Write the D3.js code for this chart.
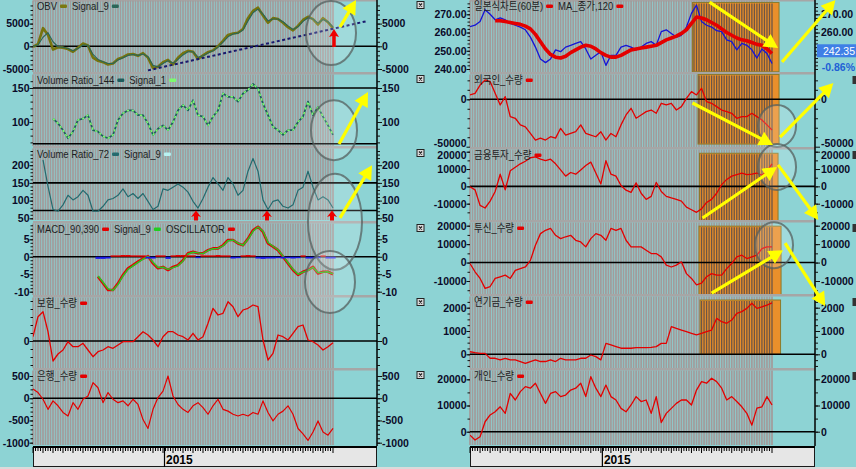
<!DOCTYPE html>
<html><head><meta charset="utf-8">
<script src="https://cdn.jsdelivr.net/npm/d3@7/dist/d3.min.js"></script>
<style>
html,body{margin:0;padding:0;background:#8dd3d4;overflow:hidden;}
svg{display:block;}
</style></head><body>
<svg id="c" width="856" height="469"></svg>
<script>
// ================= DATA =================
const idx = d3.range(61);            // bar index (time)
const yearLabel = "2015";
const yearIdx = 26.3;

// ---- left chart ----
const obv = [-100,500,4000,2500,-700,-200,-300,-600,-1200,-300,600,
 200,-2500,-3200,-3500,-4000,-3800,-2800,-2400,-1800,-1700,
 -2100,-1500,-2500,-4800,-4500,-3500,-3000,-4000,-2500,-1500,
 -1000,-1200,-2800,-2000,-1300,-900,0,1200,2500,2800,
 3000,3800,6200,7800,8500,6800,5200,6200,6000,5200,
 4200,3500,4500,5800,6500,6000,4800,6200,5300,4000];
const obvSignal = [0,300,2000,3000,1000,-100,-200,-500,-1000,-500,300,
 200,-1800,-2900,-3400,-3800,-3800,-3000,-2500,-2000,-1800,
 -2000,-1700,-2300,-4200,-4500,-3800,-3200,-3700,-2900,-1900,
 -1200,-1200,-2400,-2100,-1500,-1000,-200,900,2100,2700,
 2900,3600,5600,7400,8200,7100,5600,6000,6000,5400,
 4500,3700,4300,5500,6300,6000,5100,5900,5400,4300];
const vr144 = [null,null,null,null,105,98,88,76,86,103,105,
 110,88,86,79,76,81,103,113,117,117,
 110,110,98,81,90,95,88,100,117,125,
 117,132,110,108,95,108,117,142,137,137,
 130,142,147,156,149,127,110,93,88,81,
 88,88,100,108,130,110,122,108,95,81];
const vr144Signal = vr144.slice();   // Signal_1 = same as ratio
const vr72 = [null,null,215,140,75,70,88,115,102,111,129,
 115,70,70,84,102,106,115,133,111,120,
 106,120,98,75,84,133,129,138,147,138,
 124,98,79,106,138,165,147,129,165,147,
 115,129,183,219,183,102,75,98,102,84,
 79,88,129,138,183,138,102,111,102,79];
const macd = [null,null,null,null,null,null,null,null,null,null,null,null,null,
 -5.7,-7.6,-9.5,-9.5,-7.6,-5.2,-3.3,-2.4,-1.4,-0.5,
 0.2,-1.9,-3.3,-2.9,-3.8,-2.9,-2.4,-1,1,1.4,
 1,1,1.9,2.4,2.4,3.3,4.8,4.8,3.8,3.3,
 5.2,7.6,8.6,7.1,3.8,2.9,1.9,0,-1.9,-3.8,
 -5.2,-4.3,-3.8,-2.9,-4.8,-4.3,-4.3,-5];
const macdSignal = [null,null,null,null,null,null,null,null,null,null,null,null,null,
 -5.5,-7.3,-9.2,-9.6,-7.9,-5.5,-3.6,-2.6,-1.6,-0.7,
 0.1,-1.6,-3.1,-3.0,-3.6,-3.1,-2.6,-1.2,0.8,1.3,
 1.1,0.9,1.8,2.3,2.4,3.1,4.6,4.8,3.9,3.3,
 5.0,7.3,8.5,7.3,4.1,3.0,2.0,0.2,-1.7,-3.6,
 -5.0,-4.4,-3.9,-3.0,-4.6,-4.4,-4.3,-4.9];
const oscillator = [null,null,null,null,null,null,null,null,null,null,null,null,null,
 -0.6,-0.6,-0.5,0.4,0.4,0.5,0.5,0.4,0.4,0.4,
 -0.5,-0.5,0.4,0.4,-0.6,0.4,0.5,0.5,0.4,0.4,
 -0.4,0.4,0.4,0.4,0.5,0.4,0.4,-0.5,-0.4,0.4,
 0.5,0.4,-0.5,-0.6,-0.5,-0.5,-0.4,-0.5,-0.4,-0.5,
 -0.4,0.4,-0.5,-0.5,-0.4,0.4,-0.5,-0.5];
const insurance = [430,2430,2930,930,-2000,-1300,-900,-70,-570,-570,-230,
 -900,-1570,-1070,-900,-570,-730,-400,-70,-70,-70,
 430,930,600,100,-570,430,930,930,600,430,
 100,770,100,430,1770,3270,2600,2770,3930,3430,
 2430,3100,3270,3600,3430,100,-1900,-1230,600,430,
 100,770,1430,1600,100,-70,-400,-900,-570,-170];
const bank = [205,128,-23,-250,-60,-170,-320,-400,-100,-250,-23,
 50,350,235,-100,128,-23,-100,-60,-170,-23,
 -140,-480,-680,-250,15,160,500,50,-140,-250,
 -320,-170,-100,-210,-360,-170,-23,-250,-290,-360,
 -400,-360,-400,-320,-360,-60,-320,-510,-360,-290,
 -170,-360,-680,-800,-950,-760,-510,-760,-830,-680];

// ---- right chart ----
const price = [263.2,264,266,272.5,270,267,268,267,265,264,263,
 261.5,257.5,252,245.5,243.5,245.5,250.5,249.5,252,253,
 254,255,251,245.5,247.5,249.5,242,247.5,247.5,252,
 253,252,250.5,252,254,255,253,260.5,261.5,259.5,
 257.5,258.5,263,270.5,275,266,264,263,261,260.5,
 256,255,250.5,254,253,250.5,246,251,248.5,243];
const ma120 = [null,null,null,null,null,
 266.5,266.5,266,265.5,265,264.5,263.5,262,259,255,
 251,248,246.5,246,247,249,250.5,252,253,252.5,
 251,249,247.5,246.5,246.5,247.5,249,250.5,251,251.5,
 252,252.5,253,254.5,256,257,258,259.5,261.5,265,
 268.5,268,267,265.5,264,262,260,258.5,257,256,
 255.5,254.5,253.5,253,251,248.5];
const foreign = [4600,6300,15000,20400,18700,6300,-6000,2800,-18300,-20000,-27000,
 -29000,-36000,-43000,-41000,-43000,-39500,-41000,-30600,-37700,-36000,
 -34200,-27000,-36000,-37700,-39500,-34200,-43000,-36000,-39500,-27000,
 -16500,-9500,-20000,-16500,-13000,-11300,-14800,-4200,-6000,-4200,
 -11300,-7700,1000,8100,4600,11600,-2500,-4200,-7700,-11300,
 -13000,-14800,-20000,-18300,-18300,-14800,-18300,-21800,-27000,-32400];
const finInvest = [-300,-2000,-11000,-12500,-8500,-3000,7000,-2000,9000,11000,13000,
 14500,16500,17000,15700,14800,15700,13000,9500,5900,8000,
 7000,9500,12000,14000,7700,1400,14800,7000,5900,500,
 -2200,-3500,2000,-4000,-7500,-5800,2300,-3000,-5800,-6700,
 -7500,-8500,-12000,-13500,-15000,-13000,-9300,-7500,-4000,1000,
 4000,5900,6800,7700,6800,7000,7700,6500,8600,13000];
const trust = [-500,-5000,-8600,-14000,-13000,-8600,-7700,-6800,-8600,-4200,-3300,
 -2400,1200,9400,15700,17500,18500,14800,13000,14000,14800,
 12100,11200,8500,13000,15700,14800,12100,18500,17500,18500,
 12100,8500,8500,8500,6700,4900,4900,3100,-1400,-2400,
 -1400,400,-6000,-8600,-12100,-11200,-7700,-6000,-6800,-6800,
 -3300,-500,3100,4000,2200,3100,4000,7600,8500,8500];
const pension = [110,70,40,40,-170,-170,-240,-170,-240,-240,-310,
 -390,-310,-240,-310,-310,-240,-310,-170,-240,-240,
 -240,-170,-170,-30,-100,-240,470,400,330,260,
 260,260,290,290,290,300,330,470,470,1190,
 1110,1040,970,900,830,900,970,1040,1540,1400,
 1330,1470,1760,1830,1970,2190,1970,2040,2110,2210];
const individual = [-1300,-3200,-1900,3800,6400,7600,9500,7000,14600,12100,15300,
 17200,16600,18500,14600,10800,14600,15300,13400,14000,15900,
 16600,18500,13400,21000,16600,13400,17800,13400,12100,8900,
 7600,10200,13400,11500,12100,7000,13400,3500,7000,8900,
 10800,12100,12100,10200,15900,19100,18500,20400,19100,16600,
 12100,13400,11500,9500,7000,2500,9000,9500,13400,10200];
const lastPriceLabel = "242.35";
const lastChangeLabel = "-0.86%";

// ================= DRAWING =================
const FONT = '"Liberation Sans", Arial, "Noto Sans CJK KR", sans-serif';
const svg = d3.select('#c');
svg.append('rect').attr('width',856).attr('height',469).attr('fill','#8dd3d4');
const defs = svg.append('defs');

const xL = d3.scaleLinear().domain([0,60]).range([33,333]);
const xR = d3.scaleLinear().domain([0,60]).range([470,772]);
const stripeIdx = d3.range(0,60.01,0.5);

const SL = {name:'L', x:xL, plotL:33, plotR:377};
const SR = {name:'R', x:xR, plotL:470, plotR:815};

const RED = '#e40000';
const leftPanels = [
 {top:0,bottom:72,y:d3.scaleLinear([-5000,5000],[69,23.6]),ticks:[-5000,0,5000],minor:1000,hlines:[0],
  legend:[['OBV','#7a7810'],['Signal_9','#2a6658']],
  series:[{values:obv,color:'#76740e',width:2.6},{values:obvSignal,color:'#2a6658',width:1.1}]},
 {top:74,bottom:146,y:d3.scaleLinear([100,150],[122,88]),ticks:[100,150],minor:10,hlines:[150,68],
  legend:[['Volume Ratio_144','#1d5c5c'],['Signal_1','#7dfb6e']],
  series:[{values:vr144,color:'#1d5c5c',width:1.7},{values:vr144Signal,color:'#7dfb6e',width:1.5,dash:'2.5,2.5'}]},
 {top:148,bottom:220,y:d3.scaleLinear([50,200],[218.3,165.2]),ticks:[50,100,150,200],minor:10,hlines:[150,72],
  legend:[['Volume Ratio_72','#256a6e'],['Signal_9','#b8f2f2']],
  series:[{values:vr72,color:'#256a6e',width:1.2}]},
 {top:223,bottom:295,y:d3.scaleLinear([-10,5],[291.7,239.3]),ticks:[-10,-5,0,5],minor:1,hlines:[0],
  legend:[['MACD_90,390',RED],['Signal_9','#22cc22'],['OSCILLATOR',RED]],
  series:[{values:macd,color:RED,width:2.6},{values:macdSignal,color:'#22cc22',width:1.4},{type:'bar',values:oscillator,pos:RED,neg:'#1818e8'}]},
 {top:297,bottom:368,y:d3.scaleLinear([0,4000],[341,301]),ticks:[0],minor:800,hlines:[0],
  legend:[['보험_수량',RED]],
  series:[{values:insurance,color:RED,width:1.3}]},
 {top:370,bottom:445,y:d3.scaleLinear([-1000,500],[442.7,376]),ticks:[-1000,-500,0,500],minor:100,hlines:[0],
  legend:[['은행_수량',RED]],
  series:[{values:bank,color:RED,width:1.2}]}
];
const rightPanels = [
 {top:0,bottom:72,y:d3.scaleLinear([240,270],[69,14.3]),ticks:[240,250,260,270],rticks:[260,270],minor:2,fmt:d3.format('.2f'),hlines:[],
  box:[44.2,61.4,276.5,238.5],
  legend:[['일본식차트(60분)',RED],['MA_종가,120',RED]],
  series:[{values:price,color:'#1414d8',width:1.3},{values:ma120,color:RED,width:3.6}]},
 {top:74,bottom:147,y:d3.scaleLinear([-50000,0],[146.7,99.3]),ticks:[-50000,0],minor:10000,hlines:[0],
  shift:{'-50000':-3.5},
  box:[45.3,61.4,26200,-47200],
  legend:[['외국인_수량',RED]],series:[{values:foreign,color:RED,width:1.3}]},
 {top:149,bottom:220,y:d3.scaleLinear([-20000,20000],[221,151.7]),ticks:[-10000,0,10000,20000],minor:5000,hlines:[0],
  shift:{'20000':3.5},
  box:[45.6,61.2,19100,-19800],
  legend:[['금융투자_수량',RED]],series:[{values:finInvest,color:RED,width:1.3}]},
 {top:222,bottom:294,y:d3.scaleLinear([-10000,20000],[281,225.7]),ticks:[-10000,0,10000,20000],minor:5000,hlines:[0],
  box:[45.5,61.8,19750,-17700],
  legend:[['투신_수량',RED]],series:[{values:trust,color:RED,width:1.3}]},
 {top:296,bottom:368,y:d3.scaleLinear([0,2000],[354.3,307.7]),ticks:[0,1000,2000],minor:250,hlines:[0],
  box:[45.7,61.7,2330,0],
  legend:[['연기금_수량',RED]],series:[{values:pension,color:RED,width:1.3}]},
 {top:370,bottom:445,y:d3.scaleLinear([0,20000],[431.7,379.3]),ticks:[0,10000,20000],minor:5000,hlines:[0],
  legend:[['개인_수량',RED]],series:[{values:individual,color:RED,width:1.3}]}
];

function drawPanel(S, p, k){
  const g = svg.append('g');
  const W = S.plotR - S.plotL;
  g.append('rect').attr('x',S.plotL).attr('y',k===0?0:p.top-2).attr('width',W).attr('height',k===0?1.5:2.5).attr('fill','#a6a6a6');
  const cid = 'clip'+S.name+k;
  defs.append('clipPath').attr('id',cid).append('rect').attr('x',S.plotL).attr('y',p.top).attr('width',W).attr('height',p.bottom-p.top);
  g.append('g').selectAll('line').data(stripeIdx).join('line')
    .attr('x1',d=>S.x(d)).attr('x2',d=>S.x(d)).attr('y1',p.top+0.5).attr('y2',p.bottom)
    .attr('stroke','#a29b9b').attr('stroke-width',1.75);
  if (p.box){
    const bx0=S.x(p.box[0]), bx1=S.x(p.box[1]), by0=p.y(p.box[2]), by1=p.y(p.box[3]);
    g.append('rect').attr('x',bx0).attr('y',by0).attr('width',bx1-bx0).attr('height',by1-by0)
      .attr('fill','#e98f2b').attr('stroke','#8c7a2a').attr('stroke-width',1);
    g.append('g').selectAll('line').data(stripeIdx.filter(d=>S.x(d)>bx0+1)).join('line')
      .attr('x1',d=>S.x(d)).attr('x2',d=>S.x(d)).attr('y1',by0+1).attr('y2',by1-0.5)
      .attr('stroke','#6d5646').attr('stroke-width',1.3);
  }
  p.hlines.forEach(v=>g.append('line').attr('x1',S.plotL).attr('x2',S.plotR).attr('y1',p.y(v)).attr('y2',p.y(v))
     .attr('stroke','#000').attr('stroke-width',1.6));
  const sg = g.append('g').attr('clip-path',`url(#${cid})`);
  p.series.forEach(s=>{
    if (s.type==='bar'){
      sg.append('g').selectAll('rect').data(s.values.map((v,i)=>({v,i})).filter(d=>d.v!=null)).join('rect')
        .attr('x',d=>S.x(d.i)-2.5).attr('width',5.2)
        .attr('y',d=>p.y(Math.max(0,d.v))).attr('height',d=>Math.abs(p.y(d.v)-p.y(0)))
        .attr('fill',d=>d.v>=0?s.pos:s.neg);
    } else {
      const line = d3.line().defined(d=>d!=null).x((d,i)=>S.x(i)).y(d=>p.y(d));
      sg.append('path').attr('d',line(s.values)).attr('fill','none').attr('stroke',s.color)
        .attr('stroke-width',s.width).attr('stroke-dasharray',s.dash||null).attr('stroke-linejoin','round');
    }
  });
  let cx = S.plotL + 4;
  const ly = p.top + 10;
  p.legend.forEach(([txt,col])=>{
    const t = g.append('text').attr('x',cx).attr('y',ly).attr('font-family',FONT).attr('font-size',11)
      .attr('fill','#1e1e1e').text(txt);
    const w = t.node().getComputedTextLength()*0.86;
    t.attr('textLength',w).attr('lengthAdjust','spacingAndGlyphs');
    cx += w + 3;
    g.append('rect').attr('x',cx).attr('y',ly-5.5).attr('width',7).attr('height',3.5).attr('rx',1.2).attr('fill',col);
    cx += 12;
  });
}

function styleAxis(a, p){
  a.select('.domain').remove();
  a.attr('font-family',FONT).attr('font-size',10.5).attr('font-weight','bold');
  a.selectAll('line').attr('stroke','#111');
  a.selectAll('text').attr('fill','#0a0a28');
  if (p && p.shift) a.selectAll('.tick text').attr('transform',d=>`translate(0,${p.shift[String(d)]||0})`);
}
function drawAxes(S, p, k){
  const g = svg.append('g');
  const lo = p.y.invert(p.bottom-1), hi = p.y.invert(p.top+2);
  const minor = d3.range(Math.ceil(lo/p.minor)*p.minor, hi, p.minor);
  const fmt = p.fmt || (d=>String(d));
  const a1 = g.append('g').attr('transform',`translate(${S.plotL},0)`).call(d3.axisLeft(p.y).tickValues(minor).tickSize(2.5).tickFormat(''));
  styleAxis(a1);
  const a2 = g.append('g').attr('transform',`translate(${S.plotL},0)`).call(d3.axisLeft(p.y).tickValues(p.ticks).tickSize(3.5).tickPadding(0).tickFormat(fmt));
  styleAxis(a2, p);
  const a3 = g.append('g').attr('transform',`translate(${S.plotR},0)`).call(d3.axisRight(p.y).tickValues(minor).tickSize(3).tickFormat(''));
  styleAxis(a3);
  const a4 = g.append('g').attr('transform',`translate(${S.plotR},0)`).call(d3.axisRight(p.y).tickValues(p.rticks||p.ticks).tickSize(5).tickPadding(S.name==='L'?0:1).tickFormat(fmt));
  styleAxis(a4, p);
}

function drawChart(S, panels){
  panels.forEach((p,k)=>drawPanel(S,p,k));
  svg.append('line').attr('x1',S.plotR).attr('x2',S.plotR).attr('y1',0).attr('y2',446).attr('stroke','#000').attr('stroke-width',1.5);
  panels.forEach((p,k)=>drawAxes(S,p,k));
  const g = svg.append('g');
  g.append('rect').attr('x',S.plotL+0.5).attr('y',446.5).attr('width',S.plotR-S.plotL-1).attr('height',20)
    .attr('fill','#e6e6e6').attr('stroke','#1a1a1a').attr('stroke-width',1);
  g.append('line').attr('x1',S.plotL).attr('x2',S.plotR).attr('y1',447).attr('y2',447).attr('stroke','#000').attr('stroke-width',2);
  g.append('g').selectAll('line').data(stripeIdx).join('line')
    .attr('x1',d=>S.x(d)).attr('x2',d=>S.x(d)).attr('y1',447).attr('y2',(d,i)=>i%4===0?453:451)
    .attr('stroke','#000').attr('stroke-width',1);
  const xy = S.x(yearIdx);
  g.append('line').attr('x1',xy).attr('x2',xy).attr('y1',447).attr('y2',467).attr('stroke','#000').attr('stroke-width',1.2);
  g.append('text').attr('x',xy+1.5).attr('y',464).attr('font-family',FONT).attr('font-size',12).attr('font-weight','bold')
    .attr('fill','#000').text(yearLabel);
}

drawChart(SL, leftPanels);
drawChart(SR, rightPanels);

{
  const p = rightPanels[0];
  const yc = p.y(250);
  svg.append('rect').attr('x',817).attr('y',yc-6.5).attr('width',39).attr('height',13).attr('fill','#3f7fe6');
  svg.append('text').attr('x',855).attr('y',yc+4).attr('text-anchor','end').attr('font-family',FONT)
    .attr('font-size',10.5).attr('fill','#fff').text(lastPriceLabel);
  svg.append('text').attr('x',855).attr('y',p.y(241)+4).attr('text-anchor','end').attr('font-family',FONT)
    .attr('font-size',10.5).attr('font-weight','bold').attr('fill','#1f5fd6').text(lastChangeLabel);
}

leftPanels.forEach(p=>{
  const y = p.top + 1.5, x = 417;
  svg.append('rect').attr('x',x).attr('y',y).attr('width',7).attr('height',7).attr('fill','#dcdcdc').attr('stroke','#222').attr('stroke-width',1);
  svg.append('path').attr('d',`M${x+2},${y+2}L${x+5},${y+5}M${x+5},${y+2}L${x+2},${y+5}`).attr('stroke','#222').attr('stroke-width',1.2);
});
rightPanels.forEach((p,k)=>{ if(k>0) svg.append('rect').attr('x',852.5).attr('y',p.top+2).attr('width',3.5).attr('height',8).attr('fill','#333'); });
svg.append('rect').attr('x',0).attr('y',467).attr('width',856).attr('height',2).attr('fill','#dadada');

// ================= ANNOTATIONS =================
const annot = svg.append('g');
function ellipse(S,p,i,v,rx,ry){
  annot.append('ellipse').attr('cx',S.x(i)).attr('cy',p.y(v)).attr('rx',rx).attr('ry',ry)
    .attr('fill','rgba(255,255,255,0.17)').attr('stroke','#56605f').attr('stroke-opacity',0.75).attr('stroke-width',2);
}
function yArrow(S,p,i1,v1,i2,v2){
  const x1=S.x(i1), y1=p.y(v1), x2=S.x(i2), y2=p.y(v2);
  const dx=x2-x1, dy=y2-y1, L=Math.hypot(dx,dy), ux=dx/L, uy=dy/L, hl=14, hw=7.5;
  const bx=x2-ux*hl, by=y2-uy*hl;
  annot.append('line').attr('x1',x1).attr('y1',y1).attr('x2',bx+ux*2).attr('y2',by+uy*2).attr('stroke','#ffff00').attr('stroke-width',3.2);
  annot.append('path').attr('d',`M${x2},${y2}L${bx-uy*hw},${by+ux*hw}L${bx+uy*hw},${by-ux*hw}Z`).attr('fill','#ffff00');
}
function redUp(S,p,i,vTip,vBase,hw,hh,sw){
  const x=S.x(i), yt=p.y(vTip), yb=p.y(vBase);
  annot.append('path').attr('d',`M${x},${yt}L${x+hw},${yt+hh}L${x+sw/2},${yt+hh-1}L${x+sw/2},${yb}L${x-sw/2},${yb}L${x-sw/2},${yt+hh-1}L${x-hw},${yt+hh}Z`)
    .attr('fill','#ee0000');
}
const obvTrend = [{i:23,v:-5300},{i:67,v:5600}];
annot.append('path').attr('d',d3.line().x(d=>xL(d.i)).y(d=>leftPanels[0].y(d.v))(obvTrend))
  .attr('stroke','#1a1a6e').attr('stroke-width',2).attr('stroke-dasharray','3,2.5').attr('fill','none');

ellipse(SL,leftPanels[0],59.6,2930,25,32);
ellipse(SL,leftPanels[1],60.2,88,23,30);
ellipse(SL,leftPanels[3],60.4,10,27,48);
ellipse(SL,leftPanels[3],59.4,-7.2,25,31);
ellipse(SR,rightPanels[1],61,-28200,19,21);
ellipse(SR,rightPanels[2],61,11200,19,23);
ellipse(SR,rightPanels[3],60.4,9440,19,23);

redUp(SL,leftPanels[0],60.2,3800,-150,5,8,3.5);
[32.6,46.8,59.8].forEach(i=>redUp(SL,leftPanels[2],i,72,44,5,6.5,4));

yArrow(SL,leftPanels[0],61.4,4250,64.6,10200);
yArrow(SL,leftPanels[1],61.2,67.6,67,144);
yArrow(SL,leftPanels[2],61.4,51.4,67.8,200);
yArrow(SR,rightPanels[0],47.6,276.7,61.2,251.5);
yArrow(SR,rightPanels[0],62,243.8,72.6,277.8);
yArrow(SR,rightPanels[1],44.2,-3900,60.2,-48200);
yArrow(SR,rightPanels[1],61.6,-39800,72.2,17200);
yArrow(SR,rightPanels[2],46.2,-18300,61,11200);
yArrow(SR,rightPanels[2],61.2,12400,69.2,-19400);
yArrow(SR,rightPanels[3],48,-16600,62.2,6700);
yArrow(SR,rightPanels[3],62.6,10500,70.6,-23700);
</script>
</body></html>
